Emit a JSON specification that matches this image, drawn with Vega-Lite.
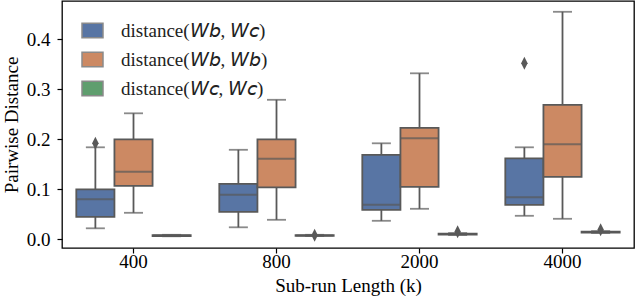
{
  "$schema": "https://vega.github.io/schema/vega-lite/v6.json",
  "width": 572,
  "height": 247,
  "autosize": {"type": "none"},
  "padding": {"left": 62, "top": 1, "right": 4, "bottom": 54},
  "background": "white",
  "config": {
    "font": "Liberation Serif",
    "view": {"stroke": "black", "strokeWidth": 1.3},
    "axis": {"grid": false, "domain": false, "tickColor": "black", "tickSize": 5, "tickWidth": 1.2, "labelColor": "black", "titleColor": "black", "labelFontSize": 19, "titleFontSize": 19, "titleFontWeight": "normal", "labelFont": "Liberation Serif", "titleFont": "Liberation Serif"}
  },
  "datasets": {
    "boxes": [
      {"len": "400", "grp": "distance(𝘞𝘣, 𝘞𝘤)", "lower": 0.022, "q1": 0.045, "median": 0.080, "q3": 0.100, "upper": 0.184},
      {"len": "400", "grp": "distance(𝘞𝘣, 𝘞𝘣)", "lower": 0.053, "q1": 0.107, "median": 0.135, "q3": 0.200, "upper": 0.252},
      {"len": "400", "grp": "distance(𝘞𝘤, 𝘞𝘤)", "lower": 0.006, "q1": 0.0065, "median": 0.0075, "q3": 0.0085, "upper": 0.009},
      {"len": "800", "grp": "distance(𝘞𝘣, 𝘞𝘤)", "lower": 0.024, "q1": 0.055, "median": 0.089, "q3": 0.111, "upper": 0.179},
      {"len": "800", "grp": "distance(𝘞𝘣, 𝘞𝘣)", "lower": 0.039, "q1": 0.104, "median": 0.161, "q3": 0.200, "upper": 0.279},
      {"len": "800", "grp": "distance(𝘞𝘤, 𝘞𝘤)", "lower": 0.0065, "q1": 0.007, "median": 0.0078, "q3": 0.0085, "upper": 0.009},
      {"len": "2000", "grp": "distance(𝘞𝘣, 𝘞𝘤)", "lower": 0.037, "q1": 0.059, "median": 0.069, "q3": 0.169, "upper": 0.192},
      {"len": "2000", "grp": "distance(𝘞𝘣, 𝘞𝘣)", "lower": 0.061, "q1": 0.105, "median": 0.202, "q3": 0.223, "upper": 0.332},
      {"len": "2000", "grp": "distance(𝘞𝘤, 𝘞𝘤)", "lower": 0.0085, "q1": 0.0095, "median": 0.0105, "q3": 0.0115, "upper": 0.0125},
      {"len": "4000", "grp": "distance(𝘞𝘣, 𝘞𝘤)", "lower": 0.047, "q1": 0.069, "median": 0.084, "q3": 0.162, "upper": 0.184},
      {"len": "4000", "grp": "distance(𝘞𝘣, 𝘞𝘣)", "lower": 0.041, "q1": 0.125, "median": 0.190, "q3": 0.269, "upper": 0.455},
      {"len": "4000", "grp": "distance(𝘞𝘤, 𝘞𝘤)", "lower": 0.0125, "q1": 0.0135, "median": 0.0145, "q3": 0.0155, "upper": 0.0165}
    ],
    "outliers": [
      {"len": "400", "grp": "distance(𝘞𝘣, 𝘞𝘤)", "value": 0.192},
      {"len": "800", "grp": "distance(𝘞𝘤, 𝘞𝘤)", "value": 0.008},
      {"len": "2000", "grp": "distance(𝘞𝘤, 𝘞𝘤)", "value": 0.015},
      {"len": "4000", "grp": "distance(𝘞𝘣, 𝘞𝘤)", "value": 0.352},
      {"len": "4000", "grp": "distance(𝘞𝘤, 𝘞𝘤)", "value": 0.019}
    ]
  },
  "encoding": {
    "x": {"field": "len", "type": "nominal", "sort": ["400", "800", "2000", "4000"], "scale": {"paddingInner": 0, "paddingOuter": 0}, "axis": {"title": "Sub-run Length (k)", "labelAngle": 0, "labelPadding": -1, "titlePadding": 5}},
    "xOffset": {"field": "grp", "type": "nominal", "scale": {"domain": ["distance(𝘞𝘣, 𝘞𝘤)", "distance(𝘞𝘣, 𝘞𝘣)", "distance(𝘞𝘤, 𝘞𝘤)"], "paddingInner": 0, "paddingOuter": 0.375}}
  },
  "layer": [
    {
      "data": {"name": "boxes"},
      "mark": {"type": "rule", "color": "#595959", "strokeWidth": 1.8},
      "encoding": {
        "y": {"field": "lower", "type": "quantitative", "scale": {"domain": [-0.0174, 0.4766], "nice": false, "zero": false}, "axis": {"title": "Pairwise Distance", "values": [0, 0.1, 0.2, 0.3, 0.4], "format": ".1f", "labelPadding": 7, "titlePadding": 5}},
        "y2": {"field": "q1"}
      }
    },
    {
      "data": {"name": "boxes"},
      "mark": {"type": "rule", "color": "#595959", "strokeWidth": 1.8},
      "encoding": {"y": {"field": "q3", "type": "quantitative"}, "y2": {"field": "upper"}}
    },
    {
      "data": {"name": "boxes"},
      "mark": {"type": "tick", "color": "#595959", "size": 19, "thickness": 1.8, "orient": "horizontal"},
      "encoding": {"y": {"field": "lower", "type": "quantitative"}}
    },
    {
      "data": {"name": "boxes"},
      "mark": {"type": "tick", "color": "#595959", "size": 19, "thickness": 1.8, "orient": "horizontal"},
      "encoding": {"y": {"field": "upper", "type": "quantitative"}}
    },
    {
      "data": {"name": "boxes"},
      "mark": {"type": "bar", "stroke": "#595959", "strokeWidth": 1.8},
      "encoding": {
        "y": {"field": "q1", "type": "quantitative"},
        "y2": {"field": "q3"},
        "fill": {"field": "grp", "type": "nominal", "scale": {"domain": ["distance(𝘞𝘣, 𝘞𝘤)", "distance(𝘞𝘣, 𝘞𝘣)", "distance(𝘞𝘤, 𝘞𝘤)"], "range": ["#5875a4", "#cc8963", "#5f9e6e"]},
          "legend": {"title": null, "orient": "none", "legendX": 19, "legendY": 18, "padding": 0, "symbolType": "M-1,-0.68H1V0.68H-1Z", "symbolSize": 441, "symbolStrokeColor": "#8a8a8a", "symbolStrokeWidth": 1.5, "symbolOpacity": 1, "labelFontSize": 19, "labelColor": "#222222", "labelFont": "Liberation Serif", "labelOffset": 17, "rowPadding": 7, "labelLimit": 400}}
      }
    },
    {
      "data": {"name": "boxes"},
      "mark": {"type": "tick", "color": "#595959", "size": 37, "thickness": 2, "orient": "horizontal"},
      "encoding": {"y": {"field": "median", "type": "quantitative"}}
    },
    {
      "data": {"name": "outliers"},
      "mark": {"type": "point", "filled": true, "color": "#595959", "opacity": 1, "shape": "M0,-1L0.5,0L0,1L-0.5,0Z", "size": 169},
      "encoding": {"y": {"field": "value", "type": "quantitative"}}
    }
  ]
}
